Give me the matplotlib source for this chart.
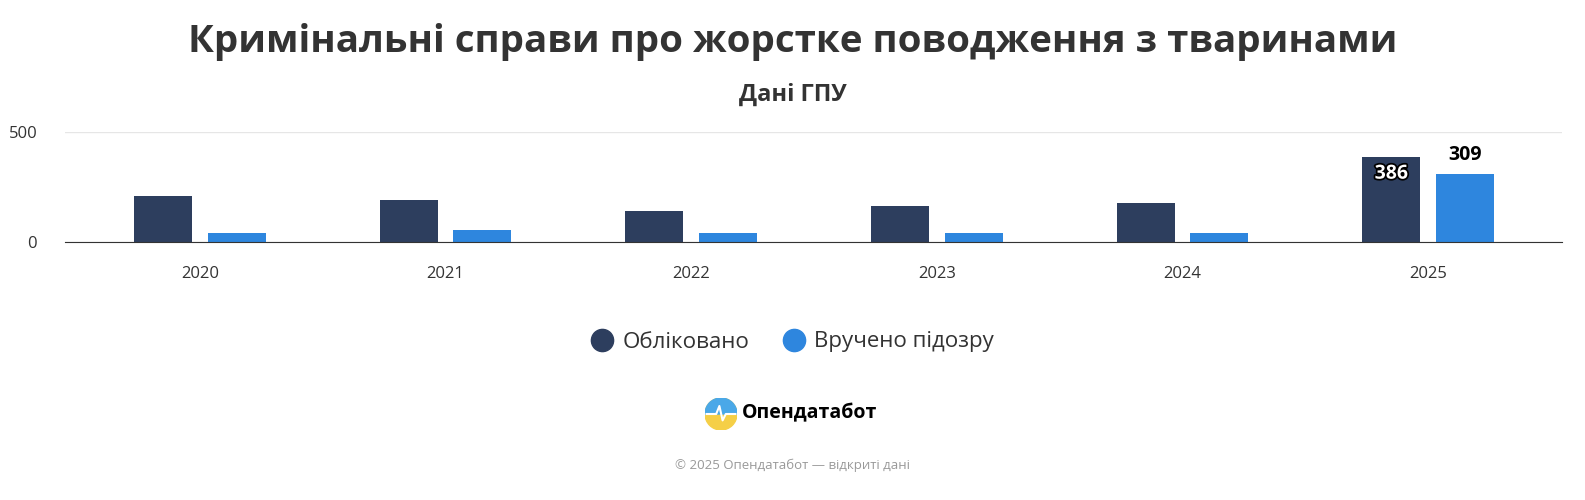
import matplotlib
matplotlib.use("Agg")
import matplotlib.pyplot as plt
import matplotlib.patheffects as pe
from matplotlib.lines import Line2D
from matplotlib.patches import Circle
import numpy as np

years = ["2020", "2021", "2022", "2023", "2024", "2025"]
registered = [209, 191, 141, 164, 177, 386]
suspected = [41, 55, 41, 41, 41, 309]
yticks = [0, 500]

dark = "#2d3e5e"
blue = "#2e86de"
txt = "#333333"
font = "Open Sans"

fig = plt.figure(figsize=(15.85, 5.0), dpi=100)
ax = fig.add_axes([65/1585, 1-242/500, (1562-65)/1585, 110/500])
x = np.arange(len(years))
w = 0.237
off = 0.15
ax.bar(x - off, registered, w, color=dark)
ax.bar(x + off, suspected, w, color=blue)
ax.set_xlim(-0.5 - 12/245.5, len(years) - 0.5 + 11/245.5)
ax.set_ylim(0, 500)
ax.set_yticks(yticks)
ax.set_yticklabels([str(v) for v in yticks], fontsize=12, color=txt, family=font)
ax.set_xticks(x)
ax.set_xticklabels(years, fontsize=12, color=txt, family=font)
ax.tick_params(length=0)
ax.tick_params(axis="x", pad=17)
ax.tick_params(axis="y", pad=20)
ax.grid(axis="y", color="#e6e6e6", lw=1)
ax.set_axisbelow(True)
for s in ["top", "right", "left"]:
    ax.spines[s].set_visible(False)
ax.spines["bottom"].set_color("#333333")

i = len(years) - 1
ax.text(x[i] - off, registered[i] - 30, str(registered[i]), ha="center", va="top",
        fontsize=14, fontweight="bold", color="white", family=font,
        path_effects=[pe.withStroke(linewidth=2.5, foreground="black")])
ax.text(x[i] + off, suspected[i] + 40, str(suspected[i]), ha="center", va="bottom",
        fontsize=14, fontweight="bold", color="black", family=font)

fig.text(0.5, 1-42/500, "Кримінальні справи про жорстке поводження з тваринами",
         ha="center", va="center", fontsize=27.7, fontweight="bold", color=txt, family=font)
fig.text(0.5, 1-95/500, "Дані ГПУ", ha="center", va="center", fontsize=17,
         fontweight="bold", color=txt, family=font)

handles = [Line2D([], [], marker="o", ls="", markersize=16, color=dark, label="Обліковано"),
           Line2D([], [], marker="o", ls="", markersize=16, color=blue, label="Вручено підозру")]
fig.legend(handles=handles, loc="center", bbox_to_anchor=(0.5, 1-342/500), ncol=2,
           frameon=False, prop={"family": font, "size": 16}, handlelength=1.0,
           columnspacing=1.5, handletextpad=0.4, labelcolor=txt)

lax = fig.add_axes([705/1585, 1-430/500, 32/1585, 32/500])
lax.set_xlim(0, 1); lax.set_ylim(0, 1); lax.axis("off")
lax.add_patch(Circle((0.5, 0.5), 0.5, color="#f5cf47"))
lax.add_patch(matplotlib.patches.Wedge((0.5, 0.5), 0.5, 0, 180, color="#4aa8e8"))
lax.plot([0.05, 0.35, 0.45, 0.55, 0.65, 0.95], [0.5, 0.5, 0.75, 0.3, 0.5, 0.5], color="white", lw=1.5)
fig.text(742/1585, 1-413/500, "Опендатабот", ha="left", va="center", fontsize=14,
         fontweight="bold", color="black", family=font)
fig.text(0.5, 1-465/500, "© 2025 Опендатабот — відкриті дані", ha="center",
         va="center", fontsize=9.5, color="#999999", family=font)
fig.savefig("out.png", dpi=100, facecolor="white")
